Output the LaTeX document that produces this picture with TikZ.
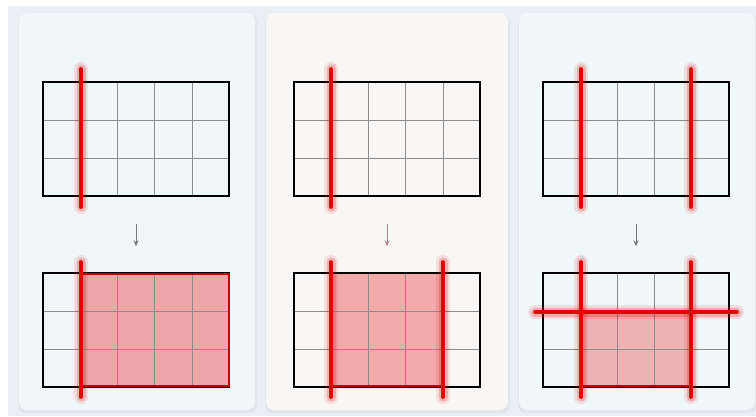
\documentclass[tikz,border=0pt]{standalone}
\usetikzlibrary{arrows.meta,positioning,calc}
\definecolor{pagebg}{HTML}{E9EFF2}
\definecolor{panelcool}{HTML}{F0F7F8}
\definecolor{panelwarm}{HTML}{F8F7F5}
\definecolor{cutred}{HTML}{E60000}
\definecolor{regionfill}{HTML}{EDA6A8}
\definecolor{regionpink}{HTML}{F2AAAB}
\definecolor{arrowgray}{HTML}{777777}
\definecolor{arrowrose}{HTML}{B98489}

% grid of 5x3 cells inside a named box node
\newcommand{\cellgrid}[1]{%
  \foreach \k in {1,...,4}
    \draw[cell] ($(#1.south west)!\k/5!(#1.south east)$) -- ($(#1.north west)!\k/5!(#1.north east)$);
  \foreach \k in {1,2}
    \draw[cell] ($(#1.north west)!\k/3!(#1.south west)$) -- ($(#1.north east)!\k/3!(#1.south east)$);
  \draw[frame] (#1.south west) rectangle (#1.north east);
}

\begin{document}
\begin{tikzpicture}[
  x=1pt, y=-1pt,
  gridbox/.style={inner sep=0pt, minimum width=186pt, minimum height=113pt},
  cell/.style={draw=black!45, line width=0.8pt},
  frame/.style={draw=black, line width=1.8pt},
  panel/.style={rounded corners=8pt},
  cut/.style={cutred, line width=3.6pt, line cap=round,
    preaction={draw=cutred, opacity=.10, line width=14pt, line cap=round},
    preaction={draw=cutred, opacity=.20, line width=9pt, line cap=round}},
  arr/.style={-{Stealth[length=6pt,width=5pt]}, line width=1pt}
]
\useasboundingbox (0,0) rectangle (756,416);
\fill[white] (0,0) rectangle (756,416);
\fill[pagebg] (8,6) rectangle (756,416);

% panels
\fill[black, opacity=.035, panel] (18,14) rectangle (257,413);
\fill[black, opacity=.035, panel] (265,14) rectangle (510,413);
\fill[black, opacity=.035, panel] (518,14) rectangle (757,413);
\fill[panelcool, panel] (19,13) rectangle (255,410);
\fill[panelwarm, panel] (266,13) rectangle (508,410);
\fill[panelcool, panel] (519,13) rectangle (755,410);

% grids
\node[gridbox] (g1a) at (136,139) {};
\node[gridbox] (g1b) at (136,330) {};
\node[gridbox] (g2a) at (387,139) {};
\node[gridbox] (g2b) at (387,330) {};
\node[gridbox] (g3a) at (636,139) {};
\node[gridbox] (g3b) at (636,330) {};

% shaded regions
\fill[regionfill] (81,274) rectangle (229,386);
\fill[regionpink] (331,274) rectangle (443,386);
\fill[regionfill, opacity=.85] (581,312) rectangle (691,386);

\cellgrid{g1a}
\cellgrid{g1b}
\cellgrid{g2a}
\cellgrid{g2b}
\cellgrid{g3a}
\cellgrid{g3b}

\draw[cutred!85!black, line width=1.5pt] (81,274) -- (229,274) -- (229,386) -- (81,386);
\draw[cutred!85!black, line width=1.5pt] (331,386) -- (443,386);
\draw[cutred!85!black, line width=1.5pt] (581,386) -- (691,386);

% cuts
\draw[cut] (81,69) -- (81,207);
\draw[cut] (81,262) -- (81,397);
\draw[cut] (331,69) -- (331,207);
\draw[cut] (331,262) -- (331,397);
\draw[cut] (443,262) -- (443,397);
\draw[cut] (581,69) -- (581,207);
\draw[cut] (691,69) -- (691,207);
\draw[cut] (581,262) -- (581,397);
\draw[cut] (691,262) -- (691,397);
\draw[cut] (535,312) -- (737,312);

% arrows
\draw[arr, arrowgray] ([yshift=-28pt]g1a.south) -- ([yshift=27pt]g1b.north);
\draw[arr, arrowrose] ([yshift=-28pt]g2a.south) -- ([yshift=27pt]g2b.north);
\draw[arr, arrowgray] ([yshift=-28pt]g3a.south) -- ([yshift=27pt]g3b.north);
\end{tikzpicture}
\end{document}
